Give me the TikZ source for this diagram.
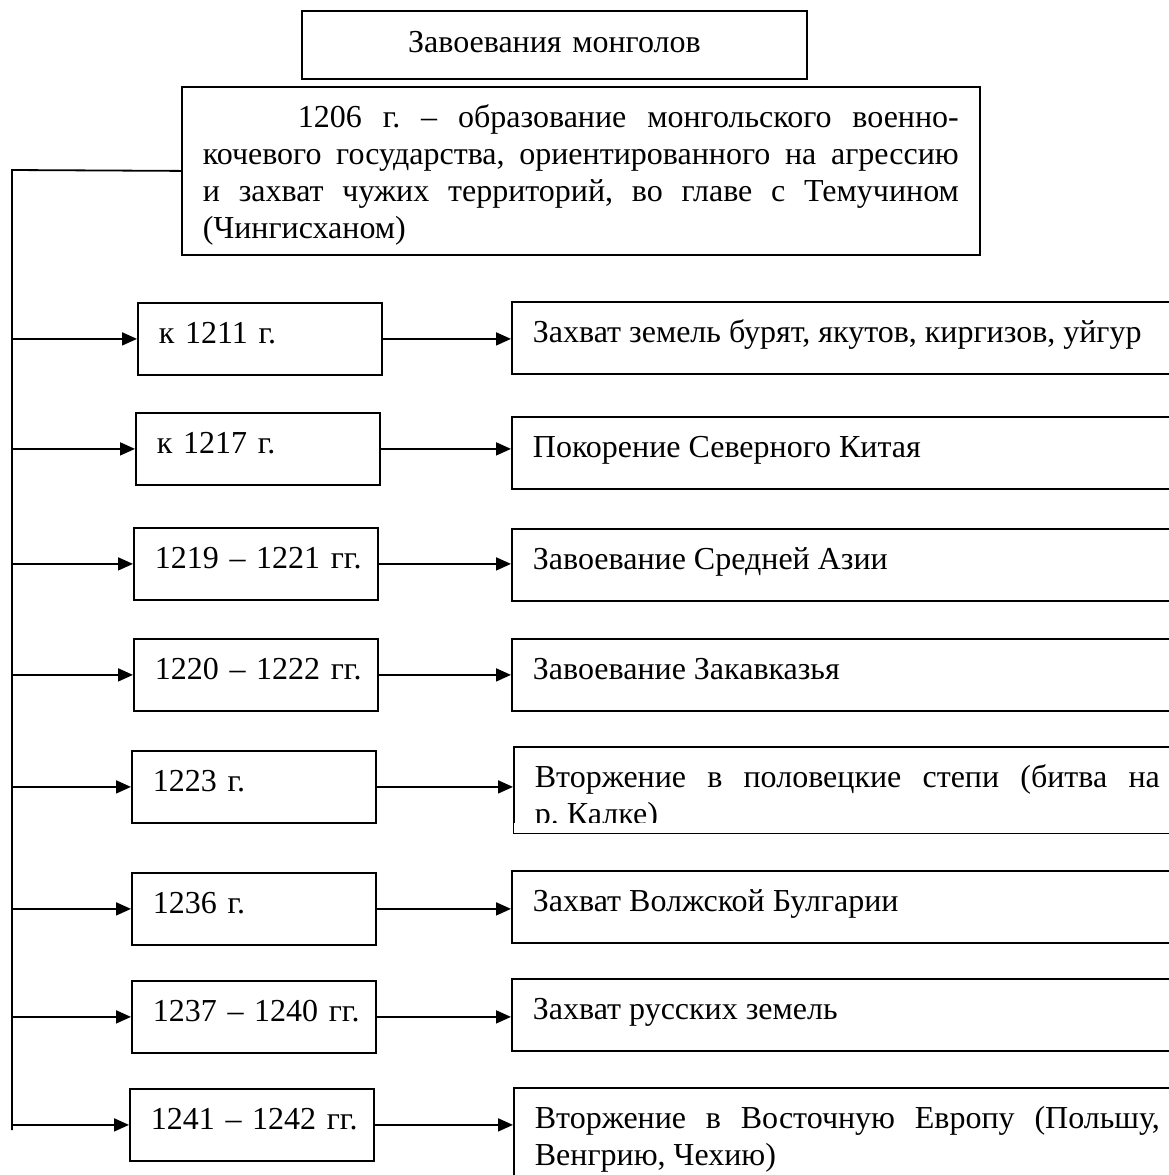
\documentclass[tikz,border=0pt]{standalone}
\usepackage{fontspec}
\setmainfont{Liberation Serif}
\usetikzlibrary{arrows.meta}

\begin{document}
\begin{tikzpicture}[x=0.5pt,y=-0.5pt,line width=0.9pt,
  box/.style={draw,anchor=north west,inner xsep=10.5pt,inner ysep=0pt,
    text height=20.5pt,text depth=15.5pt,font=\fontsize{16}{18.4}\selectfont\frenchspacing},
  datebox/.style={box,text width=101pt,align=left},
  eventbox/.style={box,text width=312.5pt,align=justify},
  arr/.style={-{Triangle[length=7.5pt,width=6.5pt]}}]
\fill[white] (0,0) rectangle (1169,1175);
\clip (0,0) rectangle (1169,1175);

\node [box,text width=231.5pt,align=center,text height=21pt,text depth=13pt] (title) at (301,10) {Завоевания монголов};
\node [box,text width=378pt,align=justify,text depth=63.5pt] (main) at (181,86)
  {\hspace*{47.5pt}1206 г. – образование монгольского военно-\linebreak
   кочевого государства, ориентированного на агрессию\linebreak
   и захват чужих территорий, во главе с Темучином\linebreak
   (Чингисханом)};

\node [datebox] (l1) at (137,302) {к 1211 г.};
\node [datebox] (l2) at (135,412) {к 1217 г.};
\node [datebox] (l3) at (133,527) {\mbox{1219 – 1221 гг.}};
\node [datebox] (l4) at (133,638) {\mbox{1220 – 1222 гг.}};
\node [datebox] (l5) at (131,750) {1223 г.};
\node [datebox] (l6) at (131,872) {1236 г.};
\node [datebox] (l7) at (131,980) {\mbox{1237 – 1240 гг.}};
\node [datebox] (l8) at (129,1088) {\mbox{1241 – 1242 гг.}};

\node [eventbox] (r1) at (511,301) {Захват земель бурят, якутов, киргизов, уйгур};
\node [eventbox] (r2) at (511,416) {Покорение Северного Китая};
\node [eventbox] (r3) at (511,528) {Завоевание Средней Азии};
\node [eventbox] (r4) at (511,638) {Завоевание Закавказья};
\node [eventbox,text depth=22.5pt] (r5) at (513,746) {Вторжение в половецкие степи (битва на\linebreak р.~Калке)};
\node [eventbox] (r6) at (511,870) {Захват Волжской Булгарии};
\node [eventbox] (r7) at (511,978) {Захват русских земель};
\node [eventbox,text depth=29.5pt] (r8) at (513,1087) {Вторжение в Восточную Европу (Польшу,\linebreak Венгрию, Чехию)};

% text of r5 is cut at the bottom
\fill[white] ([shift={(1.2,-1.2)}]r5.south west) rectangle ([shift={(-1.2,-11)}]r5.south east);

\coordinate (spine) at (12,170);
\coordinate (spineend) at (12,1130);
\draw (main.west) -- (spine) -- (spineend);

\draw[arr] (spine |- l1.west) -- (l1.west);
\draw[arr] (spine |- l2.west) -- (l2.west);
\draw[arr] (spine |- l3.west) -- (l3.west);
\draw[arr] (spine |- l4.west) -- (l4.west);
\draw[arr] (spine |- l5.west) -- (l5.west);
\draw[arr] (spine |- l6.west) -- (l6.west);
\draw[arr] (spine |- l7.west) -- (l7.west);
\draw[arr] (spine |- l8.west) -- (l8.west);

\draw[arr] (l1.east) -- (l1.east -| r1.west);
\draw[arr] (l2.east) -- (l2.east -| r2.west);
\draw[arr] (l3.east) -- (l3.east -| r3.west);
\draw[arr] (l4.east) -- (l4.east -| r4.west);
\draw[arr] (l5.east) -- (l5.east -| r5.west);
\draw[arr] (l6.east) -- (l6.east -| r6.west);
\draw[arr] (l7.east) -- (l7.east -| r7.west);
\draw[arr] (l8.east) -- (l8.east -| r8.west);
\end{tikzpicture}
\end{document}
